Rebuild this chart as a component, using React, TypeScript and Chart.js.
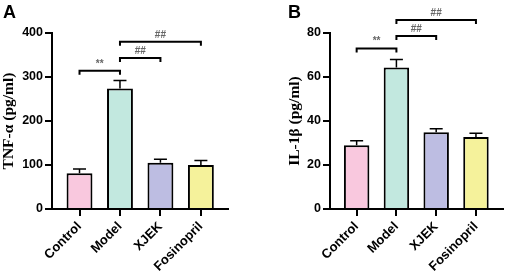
import React, { useEffect, useRef } from "react";
import { Chart, registerables } from "chart.js";

Chart.register(...registerables);

const categories = ["Control", "Model", "XJEK", "Fosinopril"];
const tnfValues = [81, 274, 105, 100];
const tnfErrors = [10, 18, 8, 10];
const il1bValues = [29, 64.3, 34.9, 32.7];
const il1bErrors = [2, 3.6, 1.6, 1.7];
const tnfTicks = [0, 400, 100];
const il1bTicks = [0, 80, 20];
// [fromIndex, toIndex, yValue, label]
const tnfBrackets: [number, number, number, string][] = [
  [0, 1, 314, "**"],
  [1, 2, 343, "##"],
  [1, 3, 380, "##"],
];
const il1bBrackets: [number, number, number, string][] = [
  [0, 1, 72.9, "**"],
  [1, 2, 78.6, "##"],
  [1, 3, 85.9, "##"],
];
const barColors = ["#F9C8DE", "#C2E8DF", "#BDBDE2", "#F5F29B"];

const SANS = "Arial, 'Liberation Sans', sans-serif";
const SERIF = "'Times New Roman', 'Liberation Serif', serif";

interface PanelProps {
  letter: string;
  values: number[];
  errors: number[];
  ticks: number[];
  brackets: [number, number, number, string][];
  title: string;
  width: number;
  left: number;
  padLeft: number;
  yWidth: number;
  padRight: number;
  xMin: number;
  xMax: number;
  letterX: number;
}

function Panel(p: PanelProps) {
  const ref = useRef<HTMLCanvasElement | null>(null);
  useEffect(() => {
    if (!ref.current) return;
    const overlay = {
      id: "overlay",
      afterDatasetsDraw(chart: any) {
        const ctx = chart.ctx;
        const xs = chart.scales.x;
        const ys = chart.scales.y;
        ctx.save();
        ctx.strokeStyle = "#000";
        ctx.lineWidth = 1.5;
        p.values.forEach((v, i) => {
          const x = xs.getPixelForValue(i);
          const y0 = ys.getPixelForValue(v);
          const y1 = ys.getPixelForValue(v + p.errors[i]);
          ctx.beginPath();
          ctx.moveTo(x, y0);
          ctx.lineTo(x, y1);
          ctx.moveTo(x - 6.5, y1);
          ctx.lineTo(x + 6.5, y1);
          ctx.stroke();
        });
        ctx.lineWidth = 2;
        p.brackets.forEach(([a, b, yv, lab]) => {
          const x0 = xs.getPixelForValue(a);
          const x1 = xs.getPixelForValue(b);
          const y = ys.getPixelForValue(yv);
          ctx.beginPath();
          ctx.moveTo(x0, y + 4);
          ctx.lineTo(x0, y);
          ctx.lineTo(x1, y);
          ctx.lineTo(x1, y + 4);
          ctx.strokeStyle = "#000";
          ctx.stroke();
          ctx.fillStyle = "#666";
          ctx.font = `bold 10px ${SANS}`;
          ctx.textAlign = "center";
          ctx.textBaseline = "middle";
          ctx.fillText(lab, (x0 + x1) / 2, y - 7);
        });
        ctx.fillStyle = "#000";
        ctx.font = `bold 18px ${SANS}`;
        ctx.textAlign = "left";
        ctx.textBaseline = "alphabetic";
        ctx.fillText(p.letter, p.letterX, 18);
        ctx.restore();
      },
    };
    const chart = new Chart(ref.current, {
      type: "bar",
      data: {
        datasets: [
          {
            data: p.values.map((v, i) => ({ x: i, y: v })),
            backgroundColor: barColors,
            borderColor: "#000",
            borderWidth: 2,
            barPercentage: 0.64,
            categoryPercentage: 1,
          },
        ],
      },
      options: {
        animation: false,
        responsive: false,
        devicePixelRatio: 1,
        layout: { padding: { left: p.padLeft, right: p.padRight, top: 33, bottom: 0 } },
        plugins: { legend: { display: false }, tooltip: { enabled: false } },
        scales: {
          x: {
            type: "linear",
            min: p.xMin,
            max: p.xMax,
            offset: false,
            afterFit: (s: any) => {
              s.height = 66;
            },
            grid: {
              display: true,
              drawOnChartArea: false,
              drawTicks: true,
              tickLength: 7,
              color: "#000",
              lineWidth: 2,
              offset: false,
            },
            border: { display: true, color: "#000", width: 2 },
            ticks: {
              stepSize: 1,
              includeBounds: false,
              autoSkip: false,
              minRotation: 45,
              maxRotation: 45,
              padding: 3,
              color: "#000",
              font: { family: SANS, size: 13, weight: "bold" },
              callback: (v: any) => categories[v] ?? "",
            },
          },
          y: {
            min: p.ticks[0],
            max: p.ticks[1],
            afterFit: (s: any) => {
              s.width = p.yWidth;
            },
            grid: {
              display: true,
              drawOnChartArea: false,
              drawTicks: true,
              tickLength: 7,
              color: "#000",
              lineWidth: 2,
            },
            border: { display: true, color: "#000", width: 2 },
            ticks: {
              stepSize: p.ticks[2],
              padding: 2,
              color: "#000",
              font: { family: SANS, size: 12.5, weight: "bold" },
            },
            title: {
              display: true,
              text: p.title,
              color: "#000",
              padding: 0,
              font: { family: SERIF, size: 15.5, weight: "bold" },
            },
          },
        },
      },
      plugins: [overlay],
    } as any);
    return () => chart.destroy();
  }, []);
  return (
    <canvas
      ref={ref}
      width={p.width}
      height={275}
      style={{ position: "absolute", left: p.left, top: 0, width: p.width, height: 275, display: "block" }}
    />
  );
}

export default function App() {
  return (
    <div style={{ position: "fixed", left: 0, top: 0, width: 505, height: 275, background: "#fff" }}>
      <Panel
        letter="A"
        values={tnfValues}
        errors={tnfErrors}
        ticks={tnfTicks}
        brackets={tnfBrackets}
        title="TNF-α (pg/ml)"
        width={250}
        left={0}
        padLeft={0}
        yWidth={52}
        padRight={22}
        xMin={-0.68}
        xMax={3.67}
        letterX={3}
      />
      <Panel
        letter="B"
        values={il1bValues}
        errors={il1bErrors}
        ticks={il1bTicks}
        brackets={il1bBrackets}
        title="IL-1β (pg/ml)"
        width={255}
        left={250}
        padLeft={36}
        yWidth={44}
        padRight={2}
        xMin={-0.67}
        xMax={3.68}
        letterX={38}
      />
    </div>
  );
}
